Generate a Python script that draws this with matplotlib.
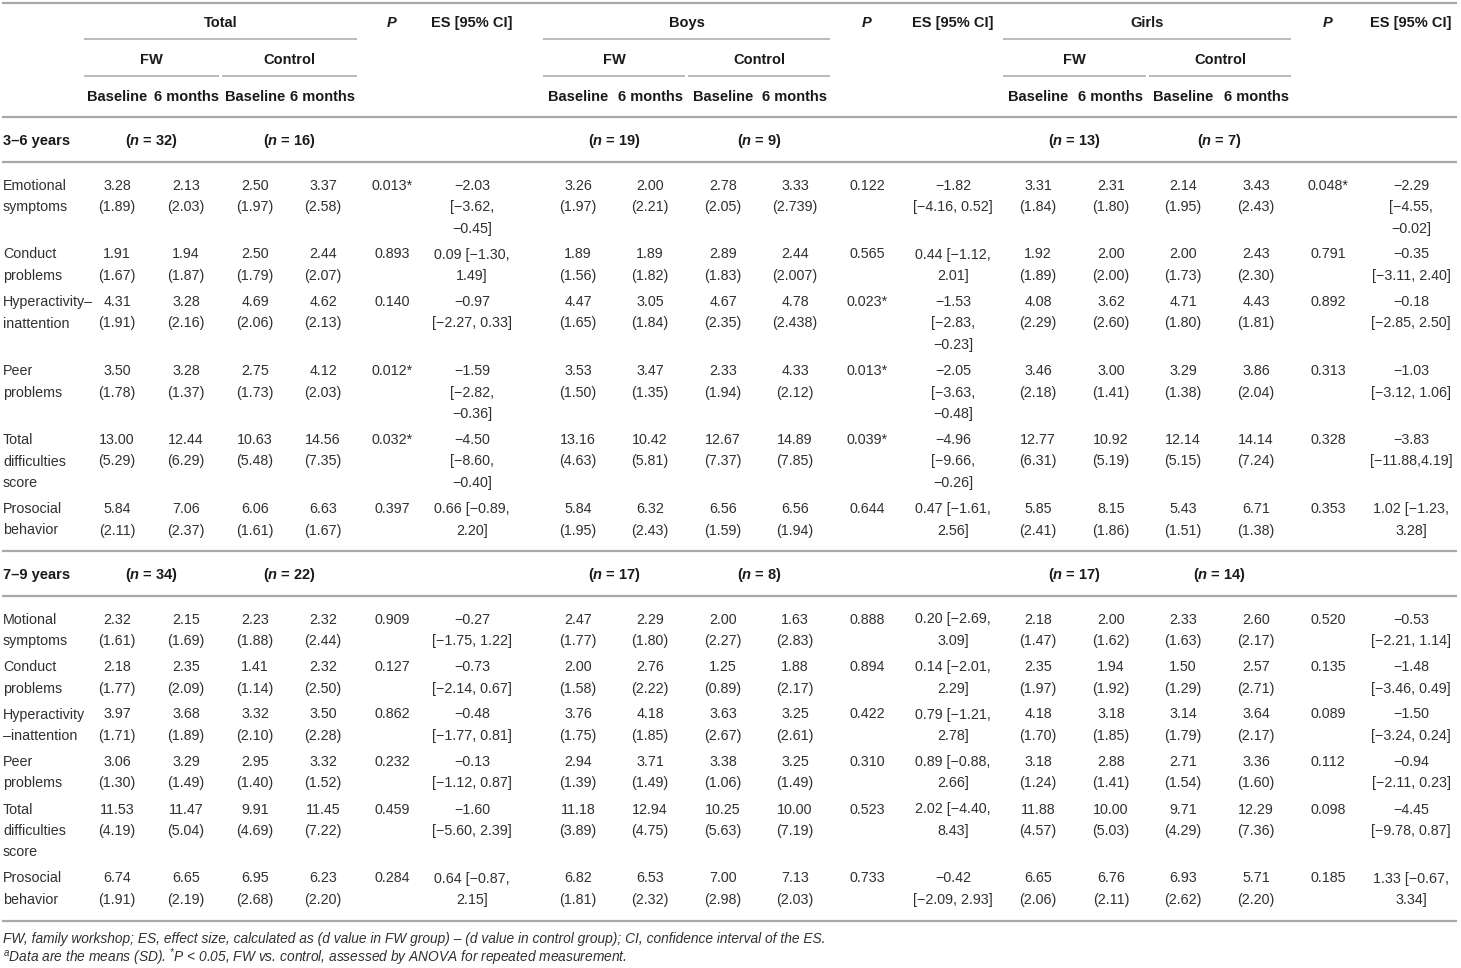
import matplotlib.pyplot as plt

plt.rcParams["font.family"] = ["Liberation Sans", "DejaVu Sans"]
plt.rcParams["mathtext.fontset"] = "custom"
plt.rcParams["mathtext.rm"] = "Liberation Sans:italic"
plt.rcParams["mathtext.it"] = "Liberation Sans:italic:bold"
plt.rcParams["mathtext.bf"] = "Liberation Sans:bold"

# ── table content ─────────────────────────────────────────────────────
groups = ["Total", "Boys", "Girls"]
arms = ["FW", "Control"]
times = ["Baseline", "6 months"]
age_bands = ["3–6 years", "7–9 years"]

labels_36 = ["Emotional\nsymptoms", "Conduct\nproblems", "Hyperactivity–\ninattention",
             "Peer\nproblems", "Total\ndifficulties\nscore", "Prosocial\nbehavior"]
labels_79 = ["Motional\nsymptoms", "Conduct\nproblems", "Hyperactivity\n–inattention",
             "Peer\nproblems", "Total\ndifficulties\nscore", "Prosocial\nbehavior"]

# sample sizes (FW, control) for Total / Boys / Girls
n_36 = [(32, 16), (19, 9), (13, 7)]
n_79 = [(34, 22), (17, 8), (17, 14)]

# means and SDs: FW baseline, FW 6 months, control baseline, control 6 months
mean_36_total = ["3.28 2.13 2.50 3.37", "1.91 1.94 2.50 2.44", "4.31 3.28 4.69 4.62",
                 "3.50 3.28 2.75 4.12", "13.00 12.44 10.63 14.56", "5.84 7.06 6.06 6.63"]
sd_36_total = ["1.89 2.03 1.97 2.58", "1.67 1.87 1.79 2.07", "1.91 2.16 2.06 2.13",
               "1.78 1.37 1.73 2.03", "5.29 6.29 5.48 7.35", "2.11 2.37 1.61 1.67"]
p_36_total = ["0.013*", "0.893", "0.140", "0.012*", "0.032*", "0.397"]
es_36_total = ["−2.03\n[−3.62,\n−0.45]", "0.09 [−1.30,\n1.49]", "−0.97\n[−2.27, 0.33]",
               "−1.59\n[−2.82,\n−0.36]", "−4.50\n[−8.60,\n−0.40]", "0.66 [−0.89,\n2.20]"]

mean_36_boys = ["3.26 2.00 2.78 3.33", "1.89 1.89 2.89 2.44", "4.47 3.05 4.67 4.78",
                "3.53 3.47 2.33 4.33", "13.16 10.42 12.67 14.89", "5.84 6.32 6.56 6.56"]
sd_36_boys = ["1.97 2.21 2.05 2.739", "1.56 1.82 1.83 2.007", "1.65 1.84 2.35 2.438",
              "1.50 1.35 1.94 2.12", "4.63 5.81 7.37 7.85", "1.95 2.43 1.59 1.94"]
p_36_boys = ["0.122", "0.565", "0.023*", "0.013*", "0.039*", "0.644"]
es_36_boys = ["−1.82\n[−4.16, 0.52]", "0.44 [−1.12,\n2.01]", "−1.53\n[−2.83,\n−0.23]",
              "−2.05\n[−3.63,\n−0.48]", "−4.96\n[−9.66,\n−0.26]", "0.47 [−1.61,\n2.56]"]

mean_36_girls = ["3.31 2.31 2.14 3.43", "1.92 2.00 2.00 2.43", "4.08 3.62 4.71 4.43",
                 "3.46 3.00 3.29 3.86", "12.77 10.92 12.14 14.14", "5.85 8.15 5.43 6.71"]
sd_36_girls = ["1.84 1.80 1.95 2.43", "1.89 2.00 1.73 2.30", "2.29 2.60 1.80 1.81",
               "2.18 1.41 1.38 2.04", "6.31 5.19 5.15 7.24", "2.41 1.86 1.51 1.38"]
p_36_girls = ["0.048*", "0.791", "0.892", "0.313", "0.328", "0.353"]
es_36_girls = ["−2.29\n[−4.55,\n−0.02]", "−0.35\n[−3.11, 2.40]", "−0.18\n[−2.85, 2.50]",
               "−1.03\n[−3.12, 1.06]", "−3.83\n[−11.88,4.19]", "1.02 [−1.23,\n3.28]"]

mean_79_total = ["2.32 2.15 2.23 2.32", "2.18 2.35 1.41 2.32", "3.97 3.68 3.32 3.50",
                 "3.06 3.29 2.95 3.32", "11.53 11.47 9.91 11.45", "6.74 6.65 6.95 6.23"]
sd_79_total = ["1.61 1.69 1.88 2.44", "1.77 2.09 1.14 2.50", "1.71 1.89 2.10 2.28",
               "1.30 1.49 1.40 1.52", "4.19 5.04 4.69 7.22", "1.91 2.19 2.68 2.20"]
p_79_total = ["0.909", "0.127", "0.862", "0.232", "0.459", "0.284"]
es_79_total = ["−0.27\n[−1.75, 1.22]", "−0.73\n[−2.14, 0.67]", "−0.48\n[−1.77, 0.81]",
               "−0.13\n[−1.12, 0.87]", "−1.60\n[−5.60, 2.39]", "0.64 [−0.87,\n2.15]"]

mean_79_boys = ["2.47 2.29 2.00 1.63", "2.00 2.76 1.25 1.88", "3.76 4.18 3.63 3.25",
                "2.94 3.71 3.38 3.25", "11.18 12.94 10.25 10.00", "6.82 6.53 7.00 7.13"]
sd_79_boys = ["1.77 1.80 2.27 2.83", "1.58 2.22 0.89 2.17", "1.75 1.85 2.67 2.61",
              "1.39 1.49 1.06 1.49", "3.89 4.75 5.63 7.19", "1.81 2.32 2.98 2.03"]
p_79_boys = ["0.888", "0.894", "0.422", "0.310", "0.523", "0.733"]
es_79_boys = ["0.20 [−2.69,\n3.09]", "0.14 [−2.01,\n2.29]", "0.79 [−1.21,\n2.78]",
              "0.89 [−0.88,\n2.66]", "2.02 [−4.40,\n8.43]", "−0.42\n[−2.09, 2.93]"]

mean_79_girls = ["2.18 2.00 2.33 2.60", "2.35 1.94 1.50 2.57", "4.18 3.18 3.14 3.64",
                 "3.18 2.88 2.71 3.36", "11.88 10.00 9.71 12.29", "6.65 6.76 6.93 5.71"]
sd_79_girls = ["1.47 1.62 1.63 2.17", "1.97 1.92 1.29 2.71", "1.70 1.85 1.79 2.17",
               "1.24 1.41 1.54 1.60", "4.57 5.03 4.29 7.36", "2.06 2.11 2.62 2.20"]
p_79_girls = ["0.520", "0.135", "0.089", "0.112", "0.098", "0.185"]
es_79_girls = ["−0.53\n[−2.21, 1.14]", "−1.48\n[−3.46, 0.49]", "−1.50\n[−3.24, 0.24]",
               "−0.94\n[−2.11, 0.23]", "−4.45\n[−9.78, 0.87]", "1.33 [−0.67,\n3.34]"]

footnote_1 = ("FW, family workshop; ES, effect size, calculated as (d value in FW group) – "
              "(d value in control group); CI, confidence interval of the ES.")
footnote_2 = (r"$^{\mathrm{a}}$Data are the means (SD). $^{*}$P < 0.05, FW vs. control, "
              "assessed by ANOVA for repeated measurement.")

sections = [
    (age_bands[0], labels_36, n_36,
     [(mean_36_total, sd_36_total, p_36_total, es_36_total),
      (mean_36_boys, sd_36_boys, p_36_boys, es_36_boys),
      (mean_36_girls, sd_36_girls, p_36_girls, es_36_girls)]),
    (age_bands[1], labels_79, n_79,
     [(mean_79_total, sd_79_total, p_79_total, es_79_total),
      (mean_79_boys, sd_79_boys, p_79_boys, es_79_boys),
      (mean_79_girls, sd_79_girls, p_79_girls, es_79_girls)]),
]

# ── layout (pixel coordinates) ───────────────────────────────────────
W, H = 1461, 968
col_x = [[117, 186, 255, 323, 392, 472],
         [578, 650, 723, 795, 867, 953],
         [1038, 1111, 1183, 1256, 1328, 1411]]
group_span = [(84, 357), (543, 830), (1003, 1291)]
arm_span = [[(84, 219), (222, 357)], [(543, 685), (688, 830)], [(1003, 1146), (1149, 1291)]]

PITCH = 21.5
FS = 10.3
TXT = "#303030"
HDR = "#1a1a1a"
RULE = "#a8a8a8"

fig = plt.figure(figsize=(W / 100, H / 100), dpi=100)
fig.patch.set_facecolor("white")
ax = fig.add_axes([0, 0, 1, 1])
ax.set_xlim(0, W)
ax.set_ylim(H, 0)
ax.axis("off")


def cell(x, yc, s, ha="center", **kw):
    # one text line per row of the cell, baseline placed below line centre
    for k, line in enumerate(s.split("\n")):
        ax.text(x, yc + k * PITCH + 5, line, ha=ha, va="baseline", **kw)


def rule(x0, x1, y, lw=1.6):
    ax.plot([x0, x1], [y, y], color=RULE, lw=lw, solid_capstyle="butt")


# header
rule(2, 1457, 3)
for g, name in enumerate(groups):
    xs = col_x[g]
    cell(sum(group_span[g]) / 2, 22, name, fontsize=10.5, weight="bold", color=HDR)
    cell(xs[4], 22, "P", fontsize=10.5, weight="bold", style="italic", color=HDR)
    cell(xs[5], 22, "ES [95% CI]", fontsize=10.5, weight="bold", color=HDR)
    rule(*group_span[g], 39, lw=1.1)
    for a, arm in enumerate(arms):
        cell(sum(arm_span[g][a]) / 2, 59, arm, fontsize=10.5, weight="bold", color=HDR)
        rule(*arm_span[g][a], 76, lw=1.1)
        for t, tm in enumerate(times):
            cell(xs[2 * a + t], 96, tm, fontsize=10.5, weight="bold", color=HDR)
rule(2, 1457, 117)

# body
y = 117
for band, labels, ns, blocks in sections:
    yc = y + 23.5
    cell(3, yc, band, ha="left", fontsize=10.5, weight="bold", color=HDR)
    for g in range(3):
        xs = col_x[g]
        for a in range(2):
            txt = "(" + r"$\mathit{n}$" + f" = {ns[g][a]})"
            cell((xs[2 * a] + xs[2 * a + 1]) / 2, yc, txt,
                 fontsize=10.5, weight="bold", color=HDR)
    y = yc + 21.5
    rule(2, 1457, y)
    yc = y + 22.5
    for r, lab in enumerate(labels):
        nlines = lab.count("\n") + 1
        cell(3, yc, lab, ha="left", fontsize=FS, color=TXT)
        for g, (means, sds, ps, ess) in enumerate(blocks):
            xs = col_x[g]
            for c, (m, s) in enumerate(zip(means[r].split(), sds[r].split())):
                cell(xs[c], yc, f"{m}\n({s})", fontsize=FS, color=TXT)
            cell(xs[4], yc, ps[r], fontsize=FS, color=TXT)
            cell(xs[5], yc, ess[r], fontsize=FS, color=TXT)
            nlines = max(nlines, ess[r].count("\n") + 1)
        last = yc + (nlines - 1) * PITCH
        yc = yc + nlines * PITCH + 4.5
    y = last + 21.5
    rule(2, 1457, y)

# footnotes
ax.text(3, 943, footnote_1, ha="left", va="baseline", fontsize=9.9, style="italic", color=TXT)
ax.text(3, 962, footnote_2, ha="left", va="baseline", fontsize=9.9, style="italic", color=TXT)

fig.savefig("out.png", dpi=100, facecolor="white")
